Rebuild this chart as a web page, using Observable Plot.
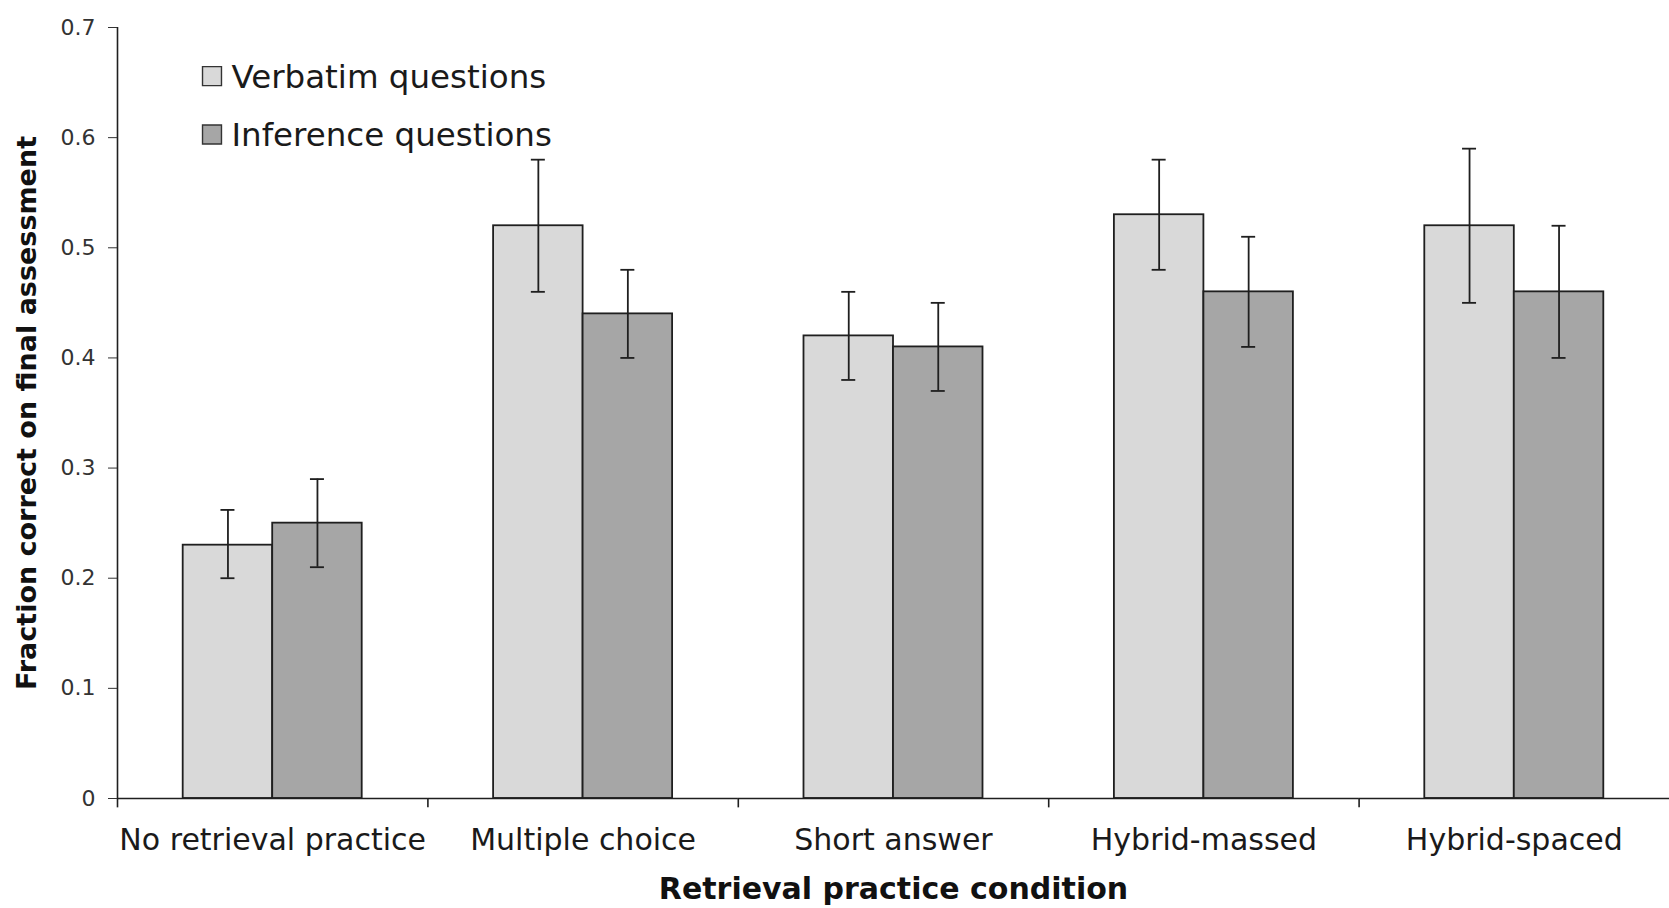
<!DOCTYPE html>
<html>
<head>
<meta charset="utf-8">
<script src="https://cdn.jsdelivr.net/npm/d3@7"></script>
<script src="https://cdn.jsdelivr.net/npm/@observablehq/plot@0.6"></script>
<style>
  html, body { margin: 0; padding: 0; background: #fff; }
  #chart svg { display: block; }
</style>
</head>
<body>
<div id="chart"></div>
<script>
// ---- Data ----
const categories = ["No retrieval practice", "Multiple choice", "Short answer", "Hybrid-massed", "Hybrid-spaced"];
const series = ["Verbatim questions", "Inference questions"];
const verbatim   = [0.23, 0.52, 0.42, 0.53, 0.52];
const verbatimLo = [0.20, 0.46, 0.38, 0.48, 0.45];
const verbatimHi = [0.262, 0.58, 0.46, 0.58, 0.59];
const inference   = [0.25, 0.44, 0.41, 0.46, 0.46];
const inferenceLo = [0.21, 0.40, 0.37, 0.41, 0.40];
const inferenceHi = [0.29, 0.48, 0.45, 0.51, 0.52];
const yTicks = [0, 0.1, 0.2, 0.3, 0.4, 0.5, 0.6, 0.7];
const yTickLabels = ["0", "0.1", "0.2", "0.3", "0.4", "0.5", "0.6", "0.7"];
const yTitle = "Fraction correct on final assessment";
const xTitle = "Retrieval practice condition";
const seriesFills = ["#d9d9d9", "#a6a6a6"];

const rows = categories.flatMap((c, i) => [
  {category: c, series: series[0], value: verbatim[i], lo: verbatimLo[i], hi: verbatimHi[i]},
  {category: c, series: series[1], value: inference[i], lo: inferenceLo[i], hi: inferenceHi[i]}
]);

// ---- Layout ----
const W = 1669, H = 908, ML = 117, MR = 0, MT = 27, MB = 110;
const paddingOuter = 0.734;
const facetW = (W - ML - MR) / categories.length;
const step = facetW / (2 + 2 * paddingOuter);
const centerOffset = paddingOuter * step + step / 2; // facet left edge -> first bar centre
const capW = 14;
const capInset = (step - capW) / 2;
const ink = "#1f1f1f";

const first = () => categories[0];

const chart = Plot.plot({
  width: W, height: H,
  marginLeft: ML, marginRight: MR, marginTop: MT, marginBottom: MB,
  style: {fontFamily: "DejaVu Sans", background: "#fff", overflow: "visible", color: "#1a1a1a"},
  fx: {domain: categories, padding: 0, round: false, axis: null, label: null},
  x: {domain: series, paddingInner: 0, paddingOuter: paddingOuter, round: false, axis: null},
  y: {domain: [0, 0.7], axis: null},
  color: {domain: series, range: seriesFills},
  marks: [
    Plot.barY(rows, {fx: "category", x: "series", y: "value", fill: "series", stroke: ink, strokeWidth: 1.8}),
    Plot.ruleX(rows, {fx: "category", x: "series", y1: "lo", y2: "hi", stroke: ink, strokeWidth: 1.8}),
    Plot.tickY(rows, {fx: "category", x: "series", y: "hi", stroke: ink, strokeWidth: 1.8, insetLeft: capInset, insetRight: capInset}),
    Plot.tickY(rows, {fx: "category", x: "series", y: "lo", stroke: ink, strokeWidth: 1.8, insetLeft: capInset, insetRight: capInset}),
    // axis lines
    Plot.ruleY([0], {stroke: ink, strokeWidth: 1.6}),
    Plot.ruleX([0], {fx: first, x: () => series[0], y1: 0.7, y2: 0, dx: -centerOffset, stroke: ink, strokeWidth: 1.6}),
    Plot.ruleX(categories, {fx: d => d, x: () => series[0], y1: 0, y2: -0.0085, dx: -centerOffset, stroke: ink, strokeWidth: 1.6}),
    Plot.axisY({ticks: yTicks, tickFormat: d => yTickLabels[yTicks.indexOf(d)], tickSize: 9, tickPadding: 13,
      fontSize: 22, color: "#333", label: null}),
    Plot.axisFx({anchor: "bottom", tickSize: 0, tickPadding: 30, fontSize: 30, label: null, color: "#1a1a1a"}),
    // titles
    Plot.text([yTitle], {fx: first, x: null, y: null, frameAnchor: "left", rotate: -90, dx: -90,
      textAnchor: "middle", lineAnchor: "middle", fontSize: 27, fontWeight: "bold", fill: "#111"}),
    Plot.text([xTitle], {fx: () => categories[2], x: null, y: null, frameAnchor: "bottom", dy: 91,
      textAnchor: "middle", lineAnchor: "middle", fontSize: 30, fontWeight: "bold", fill: "#111"}),
    // legend
    ...series.map((s, i) => Plot.dot([s], {fx: first, x: null, y: null, frameAnchor: "top-left",
      dx: 94.5, dy: 48.6 + i * 58.4, symbol: "square", r: 10.7, fill: d => d, stroke: "#333", strokeWidth: 1.4})),
    ...series.map((s, i) => Plot.text([s], {fx: first, x: null, y: null, frameAnchor: "top-left",
      textAnchor: "start", lineAnchor: "middle", dx: 114, dy: 50 + i * 58.4, fontSize: 32.5, fill: "#1a1a1a"}))
  ]
});

document.getElementById("chart").appendChild(chart);
</script>
</body>
</html>
